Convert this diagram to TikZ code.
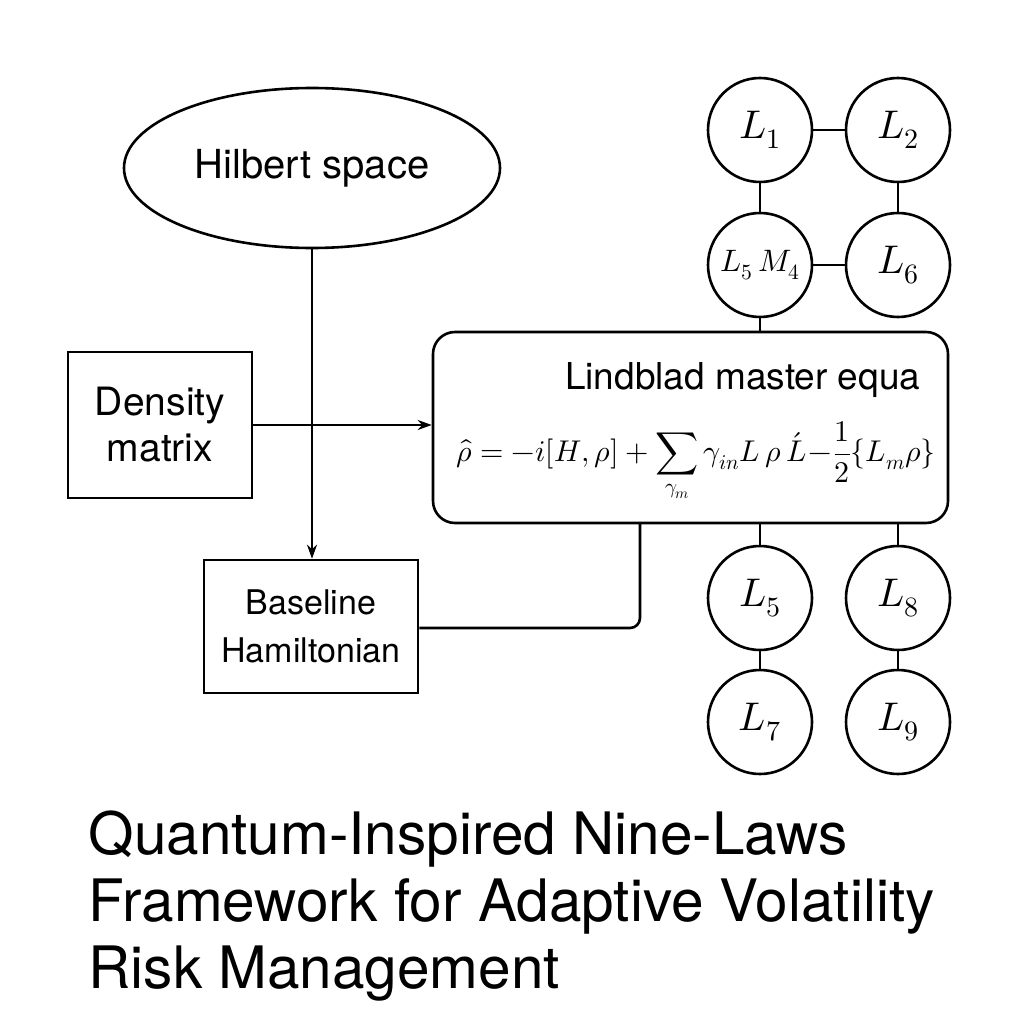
\documentclass[tikz,border=0pt]{standalone}
\usepackage{fontspec}
\setmainfont{TeX Gyre Heros}
\usepackage{unicode-math}
\setmathfont{Latin Modern Math}
\usetikzlibrary{shapes.geometric,arrows.meta}
\begin{document}
\begin{tikzpicture}[x=1pt,y=-1pt,line width=2.6pt,
  box/.style={draw,inner sep=0pt},
  law/.style={draw,circle,minimum size=104pt,inner sep=0pt,font=\fontsize{40}{40}\selectfont},
  arr/.style={-{Stealth[length=14pt,width=10pt]}}]
\fill[white!97!black!1] (0,0) rectangle (1024,1024);
\useasboundingbox (0,0) rectangle (1024,1024);
\node[draw,ellipse,minimum width=376pt,minimum height=160pt,font=\fontsize{40}{40}\selectfont] (hil) at (312,168) {Hilbert space};
\node[box,minimum width=184pt,minimum height=146pt,align=center,font=\fontsize{39}{46}\selectfont] (den) at (160,425) {Density\\matrix};
\node[box,rounded corners=22pt,minimum width=515pt,minimum height=191pt] (lin) at (690.5,427.5) {};
\node[font=\fontsize{37}{37}\selectfont,anchor=east] (lt) at (925,380) {Lindblad master equa};
\node[font=\fontsize{30}{30}\selectfont] (eq) at (696,462) {$\displaystyle\hat\rho=-i[H,\rho]+\sum_{\gamma_m}\gamma_{in}L\,\rho\,\acute{L}\!-\!\frac12\{L_m\rho\}$};
\node[box,minimum width=214pt,minimum height=133pt,align=center,font=\fontsize{34}{48}\selectfont] (bas) at (311,626.5) {Baseline\\Hamiltonian};
\node[law] (l1) at (760,130) {$L_1$};
\node[law] (l2) at (898,130) {$L_2$};
\node[law,font=\fontsize{31}{31}\selectfont] (l54) at (760,265) {$L_5\,M_4$};
\node[law] (l6) at (898,265) {$L_6$};
\node[law] (l5) at (760,598) {$L_5$};
\node[law] (l8) at (898,598) {$L_8$};
\node[law] (l7) at (760,722) {$L_7$};
\node[law] (l9) at (898,722) {$L_9$};
\draw (l1)--(l2); \draw (l1)--(l54); \draw (l2)--(l6); \draw (l54)--(l6);
\draw (l54)--(l54|-lin.north);
\draw (l5|-lin.south)--(l5); \draw (l8|-lin.south)--(l8);
\draw (l5)--(l7); \draw (l8)--(l9);
\draw[arr] (hil.south)--(bas.north-|hil.south);
\draw[arr] (den.east)--(lin.west|-den.east);
\coordinate (c) at (640,628);
\draw[rounded corners=10pt] (bas.east|-c)--(c)--(640,523);
\node[anchor=north west,align=left,font=\fontsize{58.5}{67}\selectfont] (t) at (84,806) {Quantum-Inspired Nine-Laws\\Framework for Adaptive Volatility\\Risk Management};
\end{tikzpicture}
\end{document}
